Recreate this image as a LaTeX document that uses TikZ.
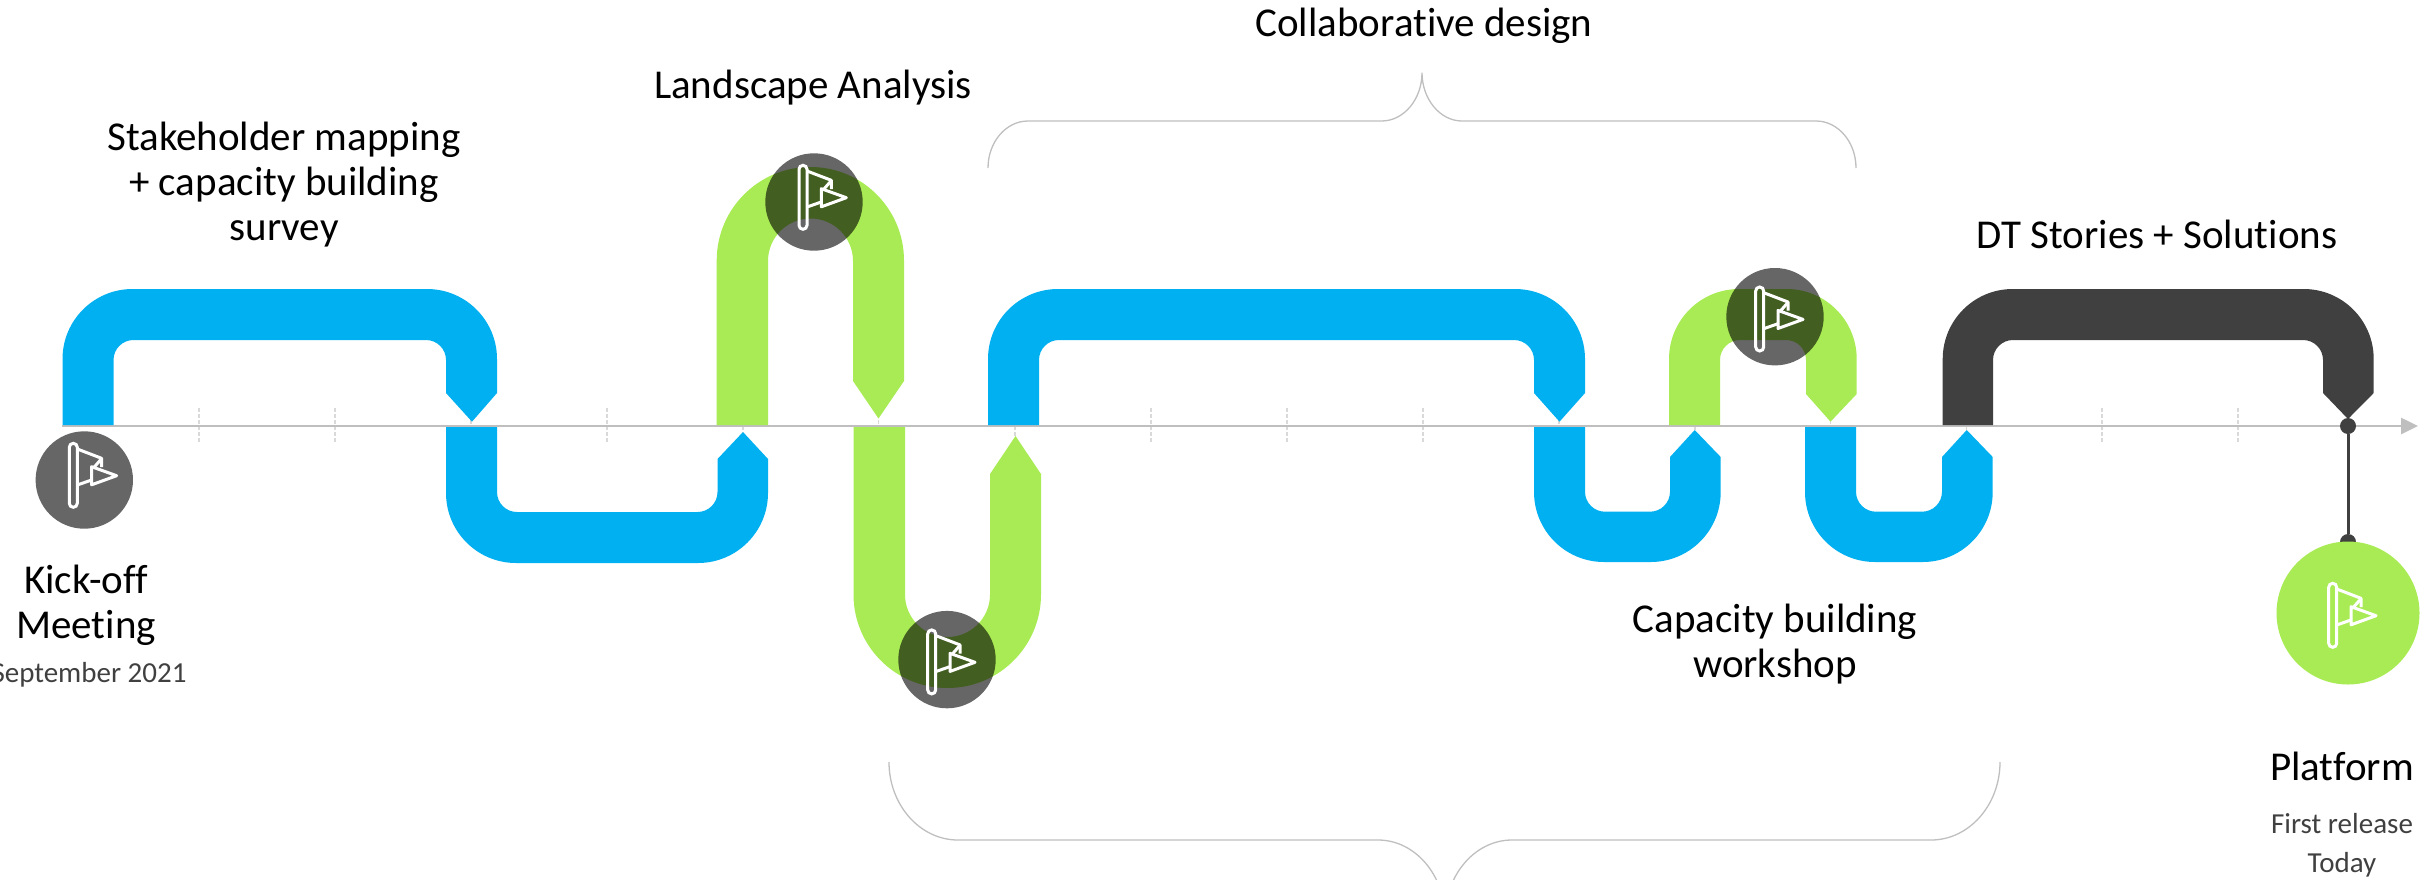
\documentclass[tikz,border=0pt]{standalone}
\usepackage{fontspec}
\setmainfont{Carlito}[Ligatures=NoCommon]
\usetikzlibrary{calc, arrows.meta}

\definecolor{bandblue}{HTML}{00B0F0}
\definecolor{bandgreen}{HTML}{A9EB54}
\definecolor{banddark}{HTML}{404040}
\definecolor{axisgray}{HTML}{BFBFBF}

\tikzset{
    heading/.style={align=center, inner sep=0pt, text=black, font=\fontsize{41}{45}\selectfont},
    subtext/.style={align=center, inner sep=0pt, text=banddark, font=\fontsize{29}{39}\selectfont},
    milestone/.style={circle, fill=black, fill opacity=0.6, text opacity=1, inner sep=0pt, minimum size=97.4pt},
    bracket/.style={draw=axisgray, line width=1.3pt},
    monthtick/.style={draw=axisgray!60, line width=1.5pt, dash pattern=on 4pt off 2pt},
    enddot/.style={circle, fill=banddark, inner sep=0pt, minimum size=16pt},
    flagicon/.pic={
        \draw[white, line width=3pt, rounded corners=4pt] (-15,-36.7) rectangle (-7,27.3);
        \draw[white, line width=3pt, line join=round] (-7,-31) -- (17.3,-21.7) -- (17.3,-13);
        \draw[white, line width=3pt] (-7,5) -- (7.3,0);
        \draw[white, line width=3pt, line join=round] (7.3,-13.3) -- (32.3,-4.3) -- (7.3,4.8) -- cycle;
        \draw[white, line width=3pt] (17,-21) -- (10,-13);
    }
}

\begin{document}
\begin{tikzpicture}[x=1pt, y=-1pt, >=Stealth]
    \path[use as bounding box, clip] (0,0) rectangle (2420,879);

    % Month ticks
    \foreach \tickx in {199,335,471,607,743,878.5,1015,1151,1287,1423,1559,1695,1830.6,1966.6,2102,2238}
        \draw[monthtick] (\tickx,408) -- (\tickx,443);

    % Time axis
    \coordinate (axisstart) at (62,426);
    \coordinate (axisend) at (2418,426);
    \draw[draw=axisgray, line width=2.5pt, -{Triangle[length=17pt, width=16pt]}] (axisstart) -- (axisend);

    % Blue bands
    \fill[bandblue] (62.5,425) [rounded corners=70pt] -- (62.5,289) -- (497,289) [sharp corners] -- (497,393) -- (472,421.7) -- (446,393) [rounded corners=20pt] -- (446,340) -- (113.5,340) [sharp corners] -- (113.5,425) -- cycle;
    \fill[bandblue] (446,427) [rounded corners=70pt] -- (446,563) -- (768,563) [sharp corners] -- (768,459) -- (743,432) -- (717.5,459) [rounded corners=20pt] -- (717.5,512) -- (497,512) [sharp corners] -- (497,427) -- cycle;
    \fill[bandblue] (988,425) [rounded corners=70pt] -- (988,289) -- (1585,289) [sharp corners] -- (1585,393) -- (1559.5,421.7) -- (1534,393) [rounded corners=20pt] -- (1534,340) -- (1039,340) [sharp corners] -- (1039,425) -- cycle;
    \fill[bandblue] (1534,427) [rounded corners=70pt] -- (1534,562) -- (1720.7,562) [sharp corners] -- (1720.7,457) -- (1694.7,430) -- (1670,457) [rounded corners=20pt] -- (1670,511.7) -- (1585,511.7) [sharp corners] -- (1585,427) -- cycle;
    \fill[bandblue] (1805,427) [rounded corners=70pt] -- (1805,562) -- (1992.7,562) [sharp corners] -- (1992.7,457) -- (1966.7,430) -- (1942,457) [rounded corners=20pt] -- (1942,511.7) -- (1856,511.7) [sharp corners] -- (1856,427) -- cycle;

    % Green bands
    \fill[bandgreen] (716.7,425) [rounded corners=93.5pt] -- (716.7,167) -- (904,167) [sharp corners] -- (904,381) -- (878.5,418.5) -- (853,381) [rounded corners=42.5pt] -- (853,218.5) -- (768,218.5) [sharp corners] -- (768,425) -- cycle;
    \fill[bandgreen] (853.5,427) [rounded corners=93.5pt] -- (853.5,688) -- (1041,688) [sharp corners] -- (1041,474) -- (1015.5,436) -- (990,474) [rounded corners=42.5pt] -- (990,637) -- (905,637) [sharp corners] -- (905,427) -- cycle;
    \fill[bandgreen] (1669,425) [rounded corners=70pt] -- (1669,289) -- (1856.7,289) [sharp corners] -- (1856.7,394) -- (1830.5,421.7) -- (1806,394) [rounded corners=20pt] -- (1806,340) -- (1720,340) [sharp corners] -- (1720,425) -- cycle;

    % Dark band
    \fill[banddark] (1942.7,425) [rounded corners=70pt] -- (1942.7,289) -- (2373.7,289) [sharp corners] -- (2373.7,393) -- (2348,419) -- (2323,393) [rounded corners=20pt] -- (2323,340) -- (1993,340) [sharp corners] -- (1993,425) -- cycle;

    % Milestones
    \node[milestone] (kickoff) at (84.3,480) {};
    \node[milestone] (landscape) at (814,202) {};
    \node[milestone] (survey) at (947,659.6) {};
    \node[milestone] (workshop) at (1775,316.7) {};
    \pic at (kickoff) {flagicon};
    \pic at (landscape) {flagicon};
    \pic at ([shift={(-4.3,7)}]survey) {flagicon};
    \pic at ([shift={(-4.3,7)}]workshop) {flagicon};

    % Release marker
    \node[enddot] (axisdot) at (2348,426) {};
    \node[enddot] (platformdot) at (2348,542) {};
    \draw[draw=banddark, line width=3pt] (axisdot) -- (platformdot);
    \node[circle, fill=bandgreen, inner sep=0pt, minimum size=143pt] (platform) at (2348,613) {};
    \pic at ([shift={(-4.3,7)}]platform) {flagicon};

    % Brackets
    \draw[bracket] (988,168) .. controls (988,142) and (1006,121) .. (1028,121) -- (1381.6,121) .. controls (1404,121) and (1422,99) .. (1422,72.7) .. controls (1422,99) and (1440,121) .. (1462,121) -- (1816,121) .. controls (1838,121) and (1856,142) .. (1856,168);
    \draw[bracket] (889,762) .. controls (889,805) and (920,840) .. (958,840) -- (1378,840) .. controls (1415,840) and (1445,875) .. (1445,918) .. controls (1445,875) and (1475,840) .. (1512,840) -- (1931,840) .. controls (1969,840) and (2000,805) .. (2000,762);

    % Labels
    \node[heading] (designlabel) at (1424,26) {Collaborative design};
    \node[heading] (landscapelabel) at (813,88) {Landscape Analysis};
    \node[heading] (surveylabel) at (284,185) {Stakeholder mapping\\+ capacity building\\survey};
    \node[heading] (storieslabel) at (2157,234) {DT Stories + Solutions};
    \node[heading] (workshoplabel) at (1775,644) {Capacity building\\workshop};
    \node[heading] (kickofflabel) at (86,605) {Kick-off\\Meeting};
    \node[subtext] (kickoffdate) at (89,675) {September 2021};
    \node[heading] (platformlabel) at (2342,766) {Platform};
    \node[subtext] (platformdate) at (2342,845) {First release\\Today};
\end{tikzpicture}
\end{document}
